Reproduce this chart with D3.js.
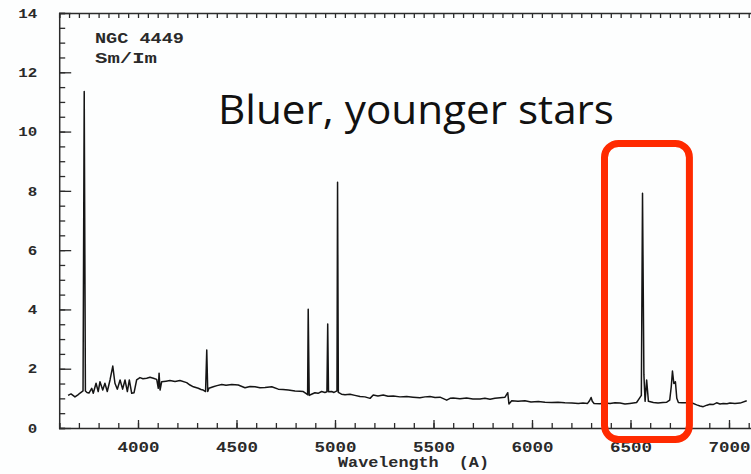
<!DOCTYPE html>
<html>
<head>
<meta charset="utf-8">
<script src="https://cdn.jsdelivr.net/npm/d3@7"></script>
<style>
  html, body { margin: 0; padding: 0; background: #fdfefe; }
  svg { display: block; }
</style>
</head>
<body>
<svg id="chart" width="751" height="474"></svg>
<script>
// NGC 4449 optical spectrum (Sm/Im): wavelength in Angstrom, relative flux
const wavelength = [
  3645, 3660, 3680, 3695, 3706, 3721, 3727, 3733, 3741, 3751,
  3765, 3773, 3787, 3798, 3807, 3821, 3832, 3844, 3858, 3872,
  3883, 3895, 3909, 3922, 3934, 3946, 3956, 3968, 3980, 3993,
  4010, 4025, 4044, 4061, 4078, 4095, 4103, 4107, 4112, 4120,
  4142, 4162, 4188, 4213, 4247, 4264, 4281, 4306, 4320, 4331,
  4343, 4349, 4354, 4360, 4382, 4401, 4425, 4447, 4476, 4509,
  4543, 4569, 4594, 4619, 4645, 4679, 4712, 4736, 4763, 4797,
  4822, 4839, 4856, 4861, 4864, 4869, 4878, 4898, 4914, 4932,
  4949, 4959, 4963, 4967, 4983, 4995, 5010, 5013, 5017, 5033,
  5051, 5076, 5101, 5127, 5152, 5178, 5194, 5218, 5245, 5269,
  5296, 5330, 5364, 5396, 5431, 5457, 5482, 5508, 5533, 5567,
  5584, 5600, 5634, 5668, 5700, 5736, 5761, 5787, 5812, 5838,
  5863, 5877, 5883, 5897, 5929, 5964, 5995, 6032, 6066, 6100,
  6132, 6167, 6203, 6235, 6259, 6282, 6292, 6300, 6306, 6315,
  6345, 6370, 6396, 6421, 6447, 6472, 6497, 6531, 6545, 6555,
  6561, 6568, 6574, 6582, 6591, 6616, 6640, 6665, 6684, 6699,
  6707, 6713, 6720, 6728, 6735, 6743, 6761, 6785, 6807, 6836,
  6853, 6869, 6888, 6903, 6919, 6937, 6954, 6971, 6990, 7005,
  7030, 7056, 7090
];
const flux = [
  1.10, 1.15, 1.05, 1.12, 1.18, 1.25, 11.35, 1.25, 1.20, 1.18,
  1.34, 1.17, 1.51, 1.23, 1.56, 1.28, 1.51, 1.23, 1.62, 2.09,
  1.51, 1.31, 1.62, 1.31, 1.62, 1.23, 1.62, 1.17, 1.19, 1.62,
  1.70, 1.66, 1.68, 1.71, 1.68, 1.64, 1.34, 1.85, 1.28, 1.56,
  1.58, 1.60, 1.57, 1.60, 1.53, 1.45, 1.39, 1.34, 1.30, 1.28,
  1.23, 2.63, 1.23, 1.34, 1.39, 1.43, 1.47, 1.44, 1.47, 1.45,
  1.36, 1.40, 1.39, 1.36, 1.37, 1.39, 1.31, 1.30, 1.28, 1.25,
  1.24, 1.23, 1.15, 1.12, 4.01, 1.10, 1.13, 1.19, 1.17, 1.23,
  1.20, 1.22, 3.51, 1.22, 1.23, 1.20, 1.25, 8.29, 1.20, 1.14,
  1.12, 1.14, 1.10, 1.06, 1.05, 1.00, 1.11, 1.08, 1.11, 1.07,
  1.08, 1.05, 1.06, 1.04, 1.02, 1.05, 1.06, 1.03, 1.04, 0.94,
  1.00, 1.01, 0.99, 1.01, 0.98, 0.98, 1.00, 0.97, 1.00, 1.02,
  1.04, 1.19, 0.81, 0.92, 0.90, 0.92, 0.88, 0.89, 0.87, 0.86,
  0.87, 0.85, 0.84, 0.83, 0.84, 0.83, 0.92, 1.03, 0.90, 0.83,
  0.82, 0.84, 0.83, 0.85, 0.84, 0.81, 0.83, 0.86, 1.00, 1.10,
  7.92, 1.80, 0.90, 1.62, 0.90, 0.86, 0.84, 0.86, 0.87, 0.94,
  1.40, 1.92, 1.50, 1.56, 1.00, 0.86, 0.85, 0.85, 0.86, 0.78,
  0.74, 0.72, 0.77, 0.80, 0.79, 0.85, 0.81, 0.83, 0.82, 0.84,
  0.83, 0.84, 0.92
];

// Axis tick labels
const xTickLabels = [4000, 4500, 5000, 5500, 6000, 6500, 7000];
const yTickLabels = [0, 2, 4, 6, 8, 10, 12, 14];

const svg = d3.select("#chart");
const margin = { left: 59.2, top: 13, bottom: 428 };

const x = d3.scaleLinear().domain([3600, 7200]).range([59.2, 768.4]);
const y = d3.scaleLinear().domain([0, 14]).range([428, 13]);

const axisColor = "#2b2b2b";
const monoFont = "'Liberation Mono', 'DejaVu Sans Mono', monospace";

function styleAxis(g) {
  g.select(".domain").attr("stroke", axisColor).attr("stroke-width", 1.5);
  g.selectAll(".tick line").attr("stroke", axisColor).attr("stroke-width", 1.3);
}

// Bottom axis: minor ticks every 100 A, major every 500 A with labels
svg.append("g")
  .attr("transform", `translate(0,${margin.bottom})`)
  .call(d3.axisBottom(x).tickValues(d3.range(3600, 7201, 100)).tickSize(-5).tickFormat(""))
  .call(styleAxis);
const xMajor = svg.append("g")
  .attr("transform", `translate(0,${margin.bottom})`)
  .call(d3.axisBottom(x).tickValues(xTickLabels).tickSize(-8).tickPadding(13).tickFormat(d3.format("d")))
  .call(styleAxis);
xMajor.select(".domain").remove();
xMajor.selectAll(".tick text")
  .attr("font-family", monoFont)
  .attr("font-weight", "bold")
  .attr("font-size", 15)
  .attr("textLength", 42)
  .attr("lengthAdjust", "spacingAndGlyphs")
  .attr("fill", "#2a2a2a");

// Top axis: short ticks every 50 A
svg.append("g")
  .attr("transform", `translate(0,${margin.top})`)
  .call(d3.axisTop(x).tickValues(d3.range(3600, 7201, 50)).tickSize(-5).tickFormat(""))
  .call(styleAxis);

// Left axis: minor ticks every 0.5, major every 2 with labels
svg.append("g")
  .attr("transform", `translate(${margin.left},0)`)
  .call(d3.axisLeft(y).tickValues(d3.range(0, 14.01, 0.5)).tickSize(-6).tickFormat(""))
  .call(styleAxis);
const yMajor = svg.append("g")
  .attr("transform", `translate(${margin.left},0)`)
  .call(d3.axisLeft(y).tickValues(yTickLabels).tickSize(-12).tickPadding(22).tickFormat(d3.format("d")))
  .call(styleAxis);
yMajor.select(".domain").remove();
yMajor.selectAll(".tick text")
  .attr("font-family", monoFont)
  .attr("font-weight", "bold")
  .attr("font-size", 13)
  .attr("textLength", d => String(d).length * 9.5)
  .attr("lengthAdjust", "spacingAndGlyphs")
  .attr("fill", "#2a2a2a");

// Spectrum trace, clipped to the frame
svg.append("clipPath").attr("id", "plot-clip")
  .append("rect")
  .attr("x", margin.left).attr("y", margin.top)
  .attr("width", 751 - margin.left).attr("height", margin.bottom - margin.top);

const line = d3.line()
  .x((d, i) => x(wavelength[i]))
  .y((d, i) => y(flux[i]));

svg.append("path")
  .datum(flux)
  .attr("clip-path", "url(#plot-clip)")
  .attr("d", line)
  .attr("fill", "none")
  .attr("stroke", "#151515")
  .attr("stroke-width", 1.5)
  .attr("stroke-linejoin", "round");

// Object name and morphological type
svg.append("text")
  .attr("x", 95).attr("y", 43)
  .attr("font-family", monoFont).attr("font-weight", "bold")
  .attr("font-size", 15).attr("fill", "#2a2a2a")
  .attr("textLength", 89).attr("lengthAdjust", "spacingAndGlyphs")
  .attr("xml:space", "preserve")
  .text("NGC 4449");
svg.append("text")
  .attr("x", 95).attr("y", 63)
  .attr("font-family", monoFont).attr("font-weight", "bold")
  .attr("font-size", 15).attr("fill", "#2a2a2a")
  .attr("textLength", 62).attr("lengthAdjust", "spacingAndGlyphs")
  .text("Sm/Im");

// Axis title
svg.append("text")
  .attr("x", 338).attr("y", 467)
  .attr("font-family", monoFont).attr("font-weight", "bold")
  .attr("font-size", 14.5).attr("fill", "#2a2a2a")
  .attr("textLength", 151).attr("lengthAdjust", "spacingAndGlyphs")
  .attr("xml:space", "preserve")
  .text("Wavelength  (A)");

// Highlight of the H-alpha / [NII] / [SII] region
const box = { lambda0: 6368, lambda1: 6799, f0: -0.39, f1: 9.6 };
svg.append("rect")
  .attr("x", x(box.lambda0))
  .attr("y", y(box.f1))
  .attr("width", x(box.lambda1) - x(box.lambda0))
  .attr("height", y(box.f0) - y(box.f1))
  .attr("rx", 14).attr("ry", 14)
  .attr("fill", "none")
  .attr("stroke", "#ff2a00")
  .attr("stroke-width", 7);

svg.append("text")
  .attr("x", 218).attr("y", 124)
  .attr("font-family", "'Open Sans', 'Liberation Sans', sans-serif")
  .attr("font-size", 41)
  .attr("fill", "#111")
  .attr("textLength", 396).attr("lengthAdjust", "spacingAndGlyphs")
  .text("Bluer, younger stars");
</script>
</body>
</html>
